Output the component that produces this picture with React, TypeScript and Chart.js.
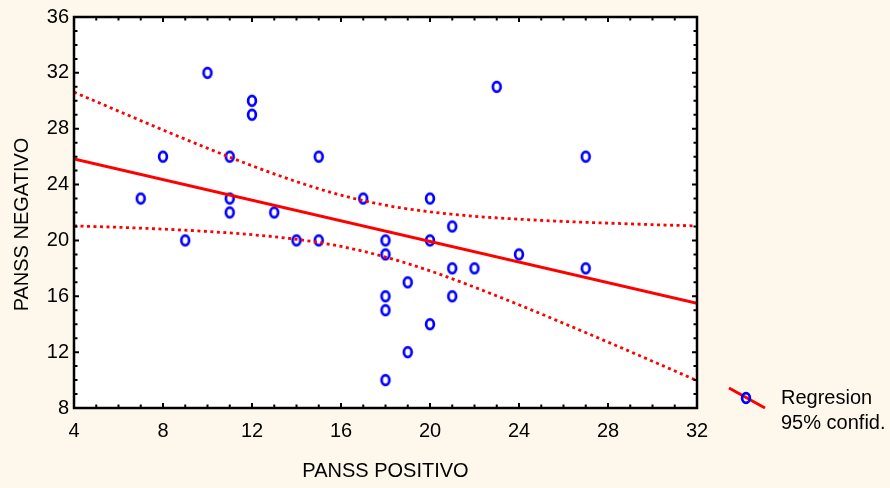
import React, { useEffect, useRef } from "react";
import { Chart, registerables } from "chart.js";

Chart.register(...registerables);

// PANSS positivo (x) / PANSS negativo (y) observations
const xPos = [7, 8, 9, 10, 11, 11, 11, 12, 12, 13, 14, 15, 15, 17, 18, 18, 18, 18, 18, 19, 19, 20, 20, 20, 21, 21, 21, 22, 23, 24, 27, 27];
const yNeg = [23, 26, 20, 32, 26, 23, 22, 30, 29, 22, 20, 26, 20, 23, 20, 19, 16, 15, 10, 17, 12, 23, 20, 14, 21, 18, 16, 18, 31, 19, 26, 18];

// regression line end points
const regX = [4, 32];
const regY = [25.83, 15.5];

// 95% confidence band
const bandX = [4, 6, 8, 10, 12, 14, 16, 18, 20, 22, 24, 26, 28, 30, 32];
const bandUpper = [30.62, 29.26, 27.91, 26.6, 25.35, 24.21, 23.24, 22.52, 22.05, 21.73, 21.52, 21.36, 21.24, 21.13, 21.04];
const bandLower = [21.04, 20.94, 20.81, 20.64, 20.41, 20.08, 19.57, 18.81, 17.82, 16.65, 15.39, 14.07, 12.72, 11.35, 9.96];

const xMin = 4, xMax = 32, xStep = 4;
const yMin = 8, yMax = 36, yStep = 4;

const xTitle = "PANSS POSITIVO";
const yTitle = "PANSS NEGATIVO";
const legendLines = ["Regresion", "95% confid."];

const FONT = '"Liberation Sans", Arial, Helvetica, sans-serif';
const FS = 20;
const RED = "#ff0000";
const BLUE = "#0000ff";
const BG = "#fdf8eb";

function makeMarker(): HTMLCanvasElement {
  const c = document.createElement("canvas");
  c.width = 14;
  c.height = 16;
  const g = c.getContext("2d")!;
  g.strokeStyle = BLUE;
  g.lineWidth = 2.7;
  g.beginPath();
  g.ellipse(7, 8, 3.9, 4.8, 0, 0, Math.PI * 2);
  g.stroke();
  return c;
}

export default function App() {
  const ref = useRef<HTMLCanvasElement | null>(null);

  useEffect(() => {
    const canvas = ref.current!;
    const marker = makeMarker();

    const framePlugin = {
      id: "frame",
      beforeDatasetsDraw(chart: any) {
        const { ctx, chartArea: a } = chart;
        ctx.save();
        ctx.fillStyle = "#ffffff";
        ctx.fillRect(a.left, a.top, a.right - a.left, a.bottom - a.top);
        ctx.restore();
      },
      afterDatasetsDraw(chart: any) {
        const { ctx, chartArea: a, scales } = chart;
        const xs = scales.x, ys = scales.y;
        ctx.save();
        ctx.strokeStyle = "#000";
        ctx.lineWidth = 2;
        ctx.beginPath();
        for (let v = xMin; v <= xMax; v++) {
          const px = xs.getPixelForValue(v);
          const len = v % xStep === 0 ? 5 : 3.5;
          ctx.moveTo(px, a.bottom);
          ctx.lineTo(px, a.bottom - len);
          ctx.moveTo(px, a.top);
          ctx.lineTo(px, a.top + len);
        }
        for (let v = yMin; v <= yMax; v++) {
          const py = ys.getPixelForValue(v);
          const len = v % yStep === 0 ? 5 : 3.5;
          ctx.moveTo(a.left, py);
          ctx.lineTo(a.left + len, py);
          ctx.moveTo(a.right, py);
          ctx.lineTo(a.right - len, py);
        }
        ctx.stroke();
        ctx.lineWidth = 2.5;
        ctx.strokeRect(a.left, a.top, a.right - a.left, a.bottom - a.top);
        ctx.restore();
      },
      afterDraw(chart: any) {
        const { ctx, chartArea: a } = chart;
        ctx.save();
        // y axis title
        ctx.font = `${FS}px ${FONT}`;
        ctx.fillStyle = "#000";
        ctx.textAlign = "center";
        ctx.textBaseline = "middle";
        ctx.translate(22, (a.top + a.bottom) / 2 + 12);
        ctx.rotate(-Math.PI / 2);
        ctx.fillText(yTitle, 0, 0);
        ctx.restore();

        // legend
        ctx.save();
        ctx.strokeStyle = RED;
        ctx.lineWidth = 3;
        ctx.beginPath();
        ctx.moveTo(729, 388);
        ctx.lineTo(765, 408);
        ctx.stroke();
        ctx.drawImage(marker, 746 - marker.width / 2, 398 - marker.height / 2);
        ctx.font = `${FS}px ${FONT}`;
        ctx.fillStyle = "#000";
        ctx.textAlign = "left";
        ctx.textBaseline = "middle";
        ctx.fillText(legendLines[0], 781, 398);
        ctx.fillText(legendLines[1], 781, 423);
        ctx.restore();
      },
    };

    const chart = new Chart(canvas, {
      type: "scatter",
      data: {
        datasets: [
          {
            label: "Regresion",
            data: regX.map((x, i) => ({ x, y: regY[i] })),
            showLine: true,
            borderColor: RED,
            borderWidth: 3,
            pointRadius: 0,
            order: 0,
          },
          {
            label: "95% confid. upper",
            data: bandX.map((x, i) => ({ x, y: bandUpper[i] })),
            showLine: true,
            borderColor: RED,
            borderWidth: 2.8,
            borderDash: [3, 3.5],
            borderCapStyle: "butt",
            pointRadius: 0,
            cubicInterpolationMode: "monotone",
            order: 0,
          },
          {
            label: "95% confid. lower",
            data: bandX.map((x, i) => ({ x, y: bandLower[i] })),
            showLine: true,
            borderColor: RED,
            borderWidth: 2.8,
            borderDash: [3, 3.5],
            borderCapStyle: "butt",
            pointRadius: 0,
            cubicInterpolationMode: "monotone",
            order: 0,
          },
          {
            label: "PANSS",
            data: xPos.map((x, i) => ({ x, y: yNeg[i] })),
            pointStyle: marker as any,
            pointRadius: 5,
            showLine: false,
            order: 1,
          },
        ],
      },
      options: {
        responsive: false,
        animation: false,
        events: [],
        layout: { padding: { left: 0, top: 17, right: 193, bottom: 0 } },
        plugins: { legend: { display: false }, tooltip: { enabled: false } },
        scales: {
          x: {
            type: "linear",
            min: xMin,
            max: xMax,
            afterFit(s: any) {
              s.height = 80;
            },
            ticks: {
              stepSize: xStep,
              color: "#000",
              padding: 11,
              maxRotation: 0,
              font: { family: FONT, size: FS },
            },
            grid: { display: false, drawTicks: false },
            border: { display: false },
            title: {
              display: true,
              text: xTitle,
              color: "#000",
              font: { family: FONT, size: FS },
              padding: { top: 0, bottom: 5 },
            },
          },
          y: {
            type: "linear",
            min: yMin,
            max: yMax,
            afterFit(s: any) {
              s.width = 74;
            },
            ticks: {
              stepSize: yStep,
              color: "#000",
              padding: 5,
              font: { family: FONT, size: FS },
            },
            grid: { display: false, drawTicks: false },
            border: { display: false },
          },
        },
      },
      plugins: [framePlugin],
    } as any);

    return () => chart.destroy();
  }, []);

  return (
    <div
      style={{
        position: "absolute",
        left: 0,
        top: 0,
        width: 890,
        height: 488,
        background: BG,
      }}
    >
      <canvas ref={ref} width={890} height={488} style={{ display: "block" }} />
    </div>
  );
}
